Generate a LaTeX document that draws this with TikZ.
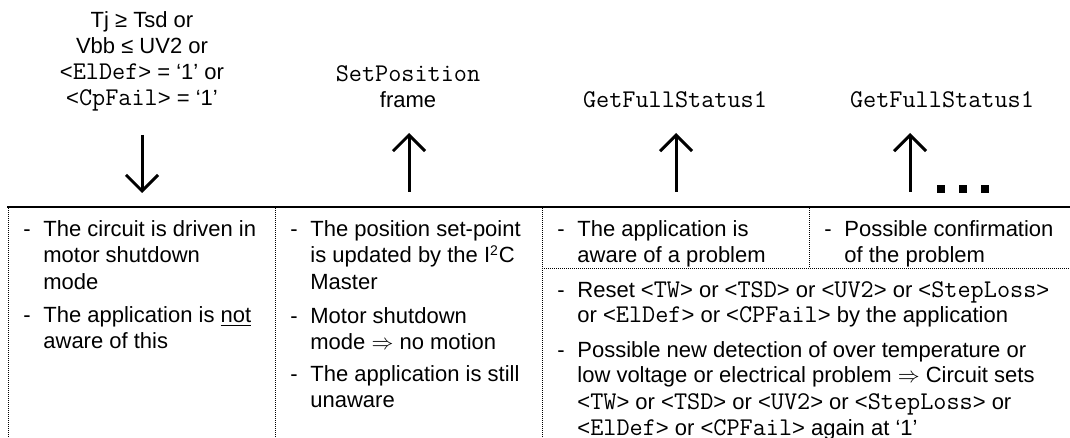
\documentclass[tikz,border=0pt]{standalone}
\usepackage{fontspec}
\setmainfont{Liberation Sans}
\usetikzlibrary{arrows.meta}
\newcommand*{\Mono}[1]{{\fontsize{12.75pt}{13pt}\ttfamily\selectfont #1}}% Courier-like
\newcommand*{\Sig}[1]{<\Mono{#1}>}% #1 = flag name
\newcommand*{\Item}[1]{% #1 = lines of one bullet, split by \\
  \begin{tabular}[t]{@{}p{10pt}@{}l@{}}
    -&\begin{tabular}[t]{@{}l@{}}#1\end{tabular}
  \end{tabular}%
}

\begin{document}
\begin{tikzpicture}[x=0.5pt,y=-0.5pt,
    txt/.style={inner sep=0pt,font=\fontsize{11pt}{13pt}\selectfont},
    toplbl/.style={txt,anchor=base},
    item/.style={txt,anchor=base west},
    evarrow/.style={line width=1.5pt,-{Straight Barb[length=8pt,width=16pt]}},
    cellsep/.style={line width=0.5pt,dash pattern=on 0.5pt off 0.5pt}]
        \useasboundingbox (0,0) rectangle (1070,438);
        % events above the time line
        \node[toplbl] (cond) at (142,28)
            {\begin{tabular}[t]{@{}c@{}}Tj ≥ Tsd or\\ Vbb ≤ UV2 or\\ \Sig{ElDef} = `1' or\\ \Sig{CpFail} = `1'\end{tabular}};
        \node[toplbl] (setpos) at (408,82)
            {\begin{tabular}[t]{@{}c@{}}\Mono{SetPosition}\\ frame\end{tabular}};
        \node[toplbl] (gfsA) at (675,108) {\Mono{GetFullStatus1}};
        \node[toplbl] (gfsB) at (942,108) {\Mono{GetFullStatus1}};
        % arrows
        \coordinate (condTop) at (142,135);
        \coordinate (condEnd) at (142,193);
        \coordinate (setposEnd) at (409,133);
        \coordinate (setposFoot) at (409,192);
        \coordinate (gfsAEnd) at (676,133);
        \coordinate (gfsAFoot) at (676,192);
        \coordinate (gfsBEnd) at (910,133);
        \coordinate (gfsBFoot) at (910,192);
        \draw[evarrow] (condTop) -- (condEnd);
        \draw[evarrow] (setposFoot) -- (setposEnd);
        \draw[evarrow] (gfsAFoot) -- (gfsAEnd);
        \draw[evarrow] (gfsBFoot) -- (gfsBEnd);
        \foreach \x in {937,959,981}
            \fill (\x,185) rectangle ++(8,8);
        % time line and cells
        \draw[line width=1pt] (7,207) -- (1070,207);
        \foreach \x in {8,275,542}
            \draw[cellsep] (\x,208) -- (\x,438);
        \draw[cellsep] (809,208) -- (809,268);
        \draw[cellsep] (542,268) -- (1070,268);
        % cell texts
        \node[item] (shutA) at (23,237) {\Item{The circuit is driven in\\ motor shutdown\\ mode}};
        \node[item] (shutB) at (23,322) {\Item{The application is \underline{not}\\ aware of this}};
        \node[item] (posA) at (290,237) {\Item{The position set-point\\ is updated by the I\textsuperscript{\scriptsize 2}C\\ Master}};
        \node[item] (posB) at (290,323) {\Item{Motor shutdown\\ mode $\Rightarrow$ no motion}};
        \node[item] (posC) at (290,381) {\Item{The application is still\\ unaware}};
        \node[item] (awareA) at (557,237) {\Item{The application is\\ aware of a problem}};
        \node[item] (awareB) at (824,237) {\Item{Possible confirmation\\ of the problem}};
        \node[item] (resetA) at (557,297)
            {\Item{Reset \Sig{TW} or \Sig{TSD} or \Sig{UV2} or \Sig{StepLoss}\\ or \Sig{ElDef} or \Sig{CPFail} by the application}};
        \node[item] (resetB) at (557,357)
            {\Item{Possible new detection of over temperature or\\ low voltage or electrical problem $\Rightarrow$ Circuit sets\\ \Sig{TW} or \Sig{TSD} or \Sig{UV2} or \Sig{StepLoss} or\\ \Sig{ElDef} or \Sig{CPFail} again at `1'}};
\end{tikzpicture}
\end{document}
